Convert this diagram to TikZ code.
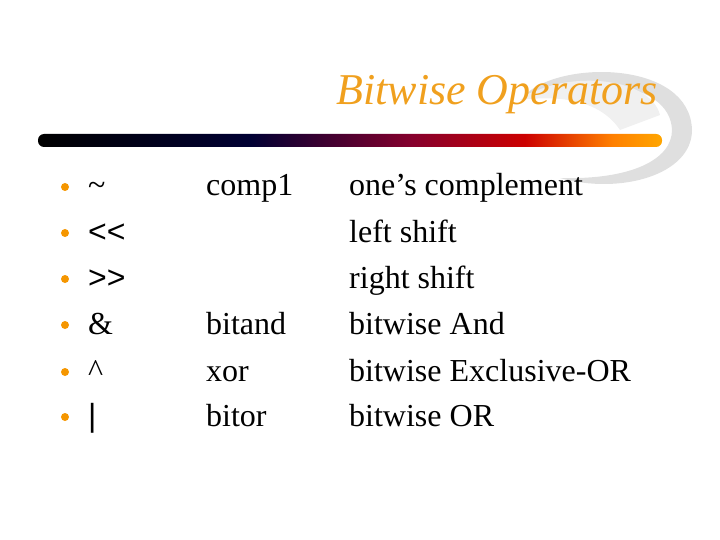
\documentclass[tikz,border=0pt]{standalone}
\usepackage{fontspec}
\setmainfont{Liberation Serif}
\newfontfamily\tms{Liberation Serif}
\newfontfamily\arial{Liberation Sans}
\usetikzlibrary{shadings}
\definecolor{ttl}{RGB}{240,160,30}
\definecolor{bul}{RGB}{245,150,0}
\pgfdeclarehorizontalshading{barshade}{100bp}{color(0bp)=(black); color(25bp)=(black); color(42bp)=(black!80!blue); color(55bp)=(purple!70!black); color(64bp)=(red!80!black); color(71bp)=(orange); color(75bp)=(orange!70!yellow); color(100bp)=(orange!70!yellow)}
\begin{document}
\begin{tikzpicture}[x=1pt,y=-1pt,
  txt/.style={anchor=base west,inner sep=0,font=\tms\fontsize{32}{36}\selectfont},
  dot/.style={circle,fill=bul,inner sep=0,minimum size=8}]
\useasboundingbox (0,0) rectangle (720,540);
% swoosh
\fill[gray!25] (525,95) .. controls (560,60) and (690,60) .. (692,130) .. controls (692,175) and (620,195) .. (560,178)
  .. controls (630,180) and (672,160) .. (672,130) .. controls (670,80) and (580,75) .. (525,95) -- cycle;
\fill[gray!12] (520,100) .. controls (560,70) and (650,75) .. (660,115) -- (620,130) .. controls (600,100) and (560,95) .. (520,100) -- cycle;
% bar
\shade[shading=barshade,rounded corners=6] (38,134) rectangle (662,147);
\node[txt,anchor=base east,font=\tms\fontsize{44}{48}\selectfont\itshape,text=ttl] (title) at (658,105) {Bitwise Operators};
\foreach \y/\a/\b/\c/\s [count=\i] in {
  196/{\textasciitilde}/comp1/one’s complement/0,
  242/{<<}//left shift/1,
  288/{>>}//right shift/1,
  334/{\&}/bitand/bitwise And/0,
  381/{\textasciicircum}/xor/bitwise Exclusive-OR/0,
  426/{|}/bitor/bitwise OR/1}{
  \node[dot] (d\i) at (65,\y-9) {};
  \ifnum\s=1
    \node[txt] (a\i) at (88,\y) {\arial\a};
  \else
    \node[txt] (a\i) at (88,\y) {\a};
  \fi
  \node[txt] (b\i) at (206,\y) {\b};
  \node[txt] (c\i) at (349,\y) {\c};
}
\end{tikzpicture}
\end{document}
